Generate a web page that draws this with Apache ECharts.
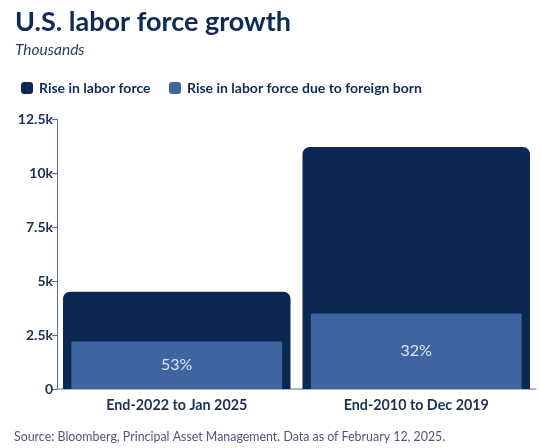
<!DOCTYPE html>
<html>
<head>
<meta charset="utf-8">
<script src="https://cdn.jsdelivr.net/npm/echarts@6/dist/echarts.min.js"></script>
<style>
html,body{margin:0;padding:0;background:#fff;}
#chart{width:541px;height:448px;}
</style>
</head>
<body>
<div id="chart"></div>
<script>
const categories = ['End-2022 to Jan 2025', 'End-2010 to Dec 2019'];
const laborForceRise = [4500, 11200];
const foreignBornRise = [2200, 3500];
const foreignBornShare = ['53%', '32%'];
const yTicks = { min: 0, max: 12500, interval: 2500 };
const seriesNames = ['Rise in labor force', 'Rise in labor force due to foreign born'];

const FONT = 'Lato, "Open Sans", sans-serif';
const NAVY = '#0c2752';
const LIGHT = '#3e65a0';

const chart = echarts.init(document.getElementById('chart'), null, { renderer: 'canvas' });

chart.setOption({
  animation: false,
  backgroundColor: '#ffffff',
  title: [
    { text: 'U.S. labor force growth', left: 15, top: 9, padding: 0,
      textStyle: { fontFamily: FONT, fontSize: 27, fontWeight: 'bold', color: '#0e2a55' } },
    { text: 'Thousands', left: 15, top: 42, padding: 0,
      textStyle: { fontFamily: FONT, fontSize: 15.5, fontStyle: 'italic', fontWeight: 'normal', color: '#2a3e66' } },
    { text: 'Source: Bloomberg, Principal Asset Management. Data as of February 12, 2025.', left: 14, top: 431, padding: 0,
      textStyle: { fontFamily: FONT, fontSize: 12.4, fontWeight: 'normal', color: '#4a5878' } }
  ],
  legend: [
    { data: [seriesNames[0]], left: 21, top: 81, padding: 0, itemWidth: 12, itemHeight: 12, itemGap: 0, icon: 'roundRect',
      textStyle: { fontFamily: FONT, fontSize: 14, fontWeight: 'bold', color: '#0e2a55', padding: [0, 0, 0, 1] } },
    { data: [seriesNames[1]], left: 169, top: 81, padding: 0, itemWidth: 12, itemHeight: 12, itemGap: 0, icon: 'roundRect',
      textStyle: { fontFamily: FONT, fontSize: 14, fontWeight: 'bold', color: '#0e2a55', padding: [0, 0, 0, 1] } }
  ],
  grid: { left: 57, right: 5, top: 119, bottom: 59, containLabel: false },
  xAxis: [
    { type: 'category', data: categories,
      axisLine: { lineStyle: { color: '#8d9cb8', width: 1.5 } },
      axisTick: { show: false },
      axisLabel: { fontFamily: FONT, fontSize: 14.3, fontWeight: 'bold', color: '#1a2f55', margin: 9 } },
    { type: 'category', data: categories, show: false, position: 'bottom' }
  ],
  yAxis: {
    type: 'value', min: yTicks.min, max: yTicks.max, interval: yTicks.interval,
    axisLine: { show: true, lineStyle: { color: '#5a6e96', width: 1 } },
    axisTick: { show: true, length: 5, lineStyle: { color: '#5a6e96' } },
    splitLine: { show: false },
    axisLabel: { fontFamily: FONT, fontSize: 14, fontWeight: 'bold', color: '#1a2f55', margin: 4,
      formatter: v => v === 0 ? '0' : (v / 1000) + 'k' }
  },
  series: [
    { name: seriesNames[0], type: 'bar', xAxisIndex: 0, data: laborForceRise,
      barWidth: '95%', itemStyle: { color: NAVY, borderRadius: [7, 7, 0, 0] }, z: 2 },
    { name: seriesNames[1], type: 'bar', xAxisIndex: 1, data: foreignBornRise,
      barWidth: '88%', itemStyle: { color: LIGHT, borderRadius: [1, 1, 0, 0] }, z: 3,
      label: { show: true, position: 'inside', fontFamily: FONT, fontSize: 16, color: '#dde4f0',
        formatter: p => foreignBornShare[p.dataIndex] } }
  ]
});
</script>
</body>
</html>
